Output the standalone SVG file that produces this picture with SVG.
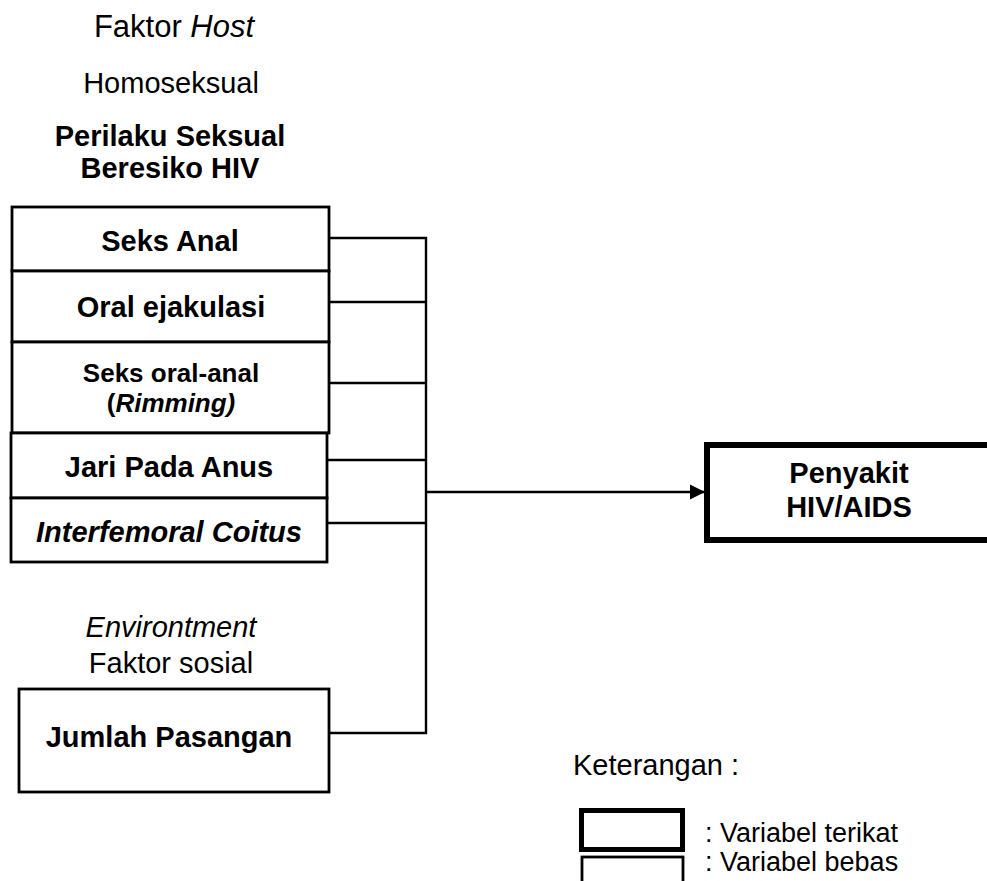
<svg xmlns="http://www.w3.org/2000/svg" width="987" height="881" viewBox="0 0 987 881">
<style>
text{font-family:"Liberation Sans",Arial,sans-serif;font-size:29px;fill:#000}
.b{font-weight:bold}
.i{font-style:italic}
.m{text-anchor:middle}
.box{fill:#fff;stroke:#000;stroke-width:2.8}
.thick{fill:#fff;stroke:#000;stroke-width:6}
.ln{fill:none;stroke:#000;stroke-width:2.4}
.lg{font-size:27px}
</style>
<defs>
<marker id="ah" markerWidth="16" markerHeight="16" refX="15" refY="8" orient="auto" markerUnits="userSpaceOnUse">
<path d="M0,0.5 L15,8 L0,15.5 Z" fill="#000"/>
</marker>
</defs>
<g id="headers">
<text class="m" x="174" y="37" style="font-size:31px">Faktor <tspan class="i">Host</tspan></text>
<text class="m" x="171" y="93">Homoseksual</text>
<text class="m b" x="170" y="146">Perilaku Seksual</text>
<text class="m b" x="170" y="178">Beresiko HIV</text>
<text class="m i" x="171" y="637">Environtment</text>
<text class="m" x="171" y="673">Faktor sosial</text>
</g>
<g id="connectors">
<polyline class="ln" points="329,238 426,238 426,733 329,733"/>
<line class="ln" x1="329" y1="302" x2="426" y2="302"/>
<line class="ln" x1="329" y1="383" x2="426" y2="383"/>
<line class="ln" x1="327" y1="460" x2="426" y2="460"/>
<line class="ln" x1="327" y1="523" x2="426" y2="523"/>
<line class="ln" x1="426" y1="492" x2="705" y2="492" marker-end="url(#ah)"/>
</g>
<g id="n-seks-anal">
<rect class="box" x="12" y="207" width="317" height="64"/>
<text class="m b" x="170" y="251">Seks Anal</text>
</g>
<g id="n-oral">
<rect class="box" x="12" y="271" width="317" height="71"/>
<text class="m b" x="171" y="317">Oral ejakulasi</text>
</g>
<g id="n-rimming">
<rect class="box" x="12" y="342" width="317" height="91"/>
<text class="m b" x="171" y="382" style="font-size:26px">Seks oral-anal</text>
<text class="m b" x="171" y="412" style="font-size:26px">(<tspan class="i">Rimming)</tspan></text>
</g>
<g id="n-jari">
<rect class="box" x="11" y="433" width="316" height="65"/>
<text class="m b" x="169" y="477">Jari Pada Anus</text>
</g>
<g id="n-interfemoral">
<rect class="box" x="11" y="498" width="316" height="64"/>
<text class="m b i" x="169" y="542">Interfemoral Coitus</text>
</g>
<g id="n-jumlah">
<rect class="box" x="19" y="689" width="310" height="103"/>
<text class="m b" x="169" y="747">Jumlah Pasangan</text>
</g>
<g id="n-penyakit">
<rect class="thick" x="707" y="445" width="285" height="95"/>
<text class="m b" x="849" y="483">Penyakit</text>
<text class="m b" x="849" y="517">HIV/AIDS</text>
</g>
<g id="legend">
<text x="573" y="775">Keterangan :</text>
<rect x="581.5" y="810.5" width="101" height="39" fill="#fff" stroke="#000" stroke-width="5"/>
<text class="lg" x="705" y="842">: Variabel terikat</text>
<rect class="box" x="582" y="857" width="101" height="40"/>
<text class="lg" x="705" y="871">: Variabel bebas</text>
</g>
</svg>
